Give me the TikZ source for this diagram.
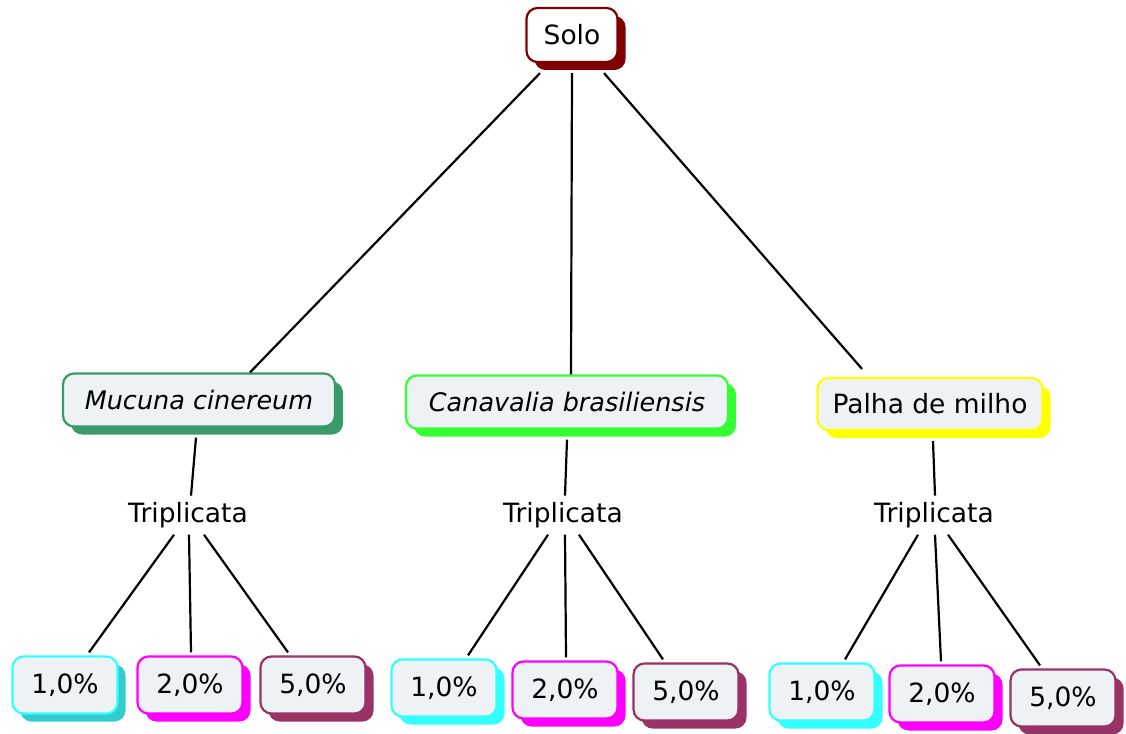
\documentclass[tikz,border=0pt]{standalone}
\usepackage{fontspec}
\setmainfont{DejaVu Sans}
\usetikzlibrary{shadows}
\definecolor{solocol}{HTML}{800000}
\definecolor{muccol}{HTML}{3A9A6A}
\definecolor{cancol}{HTML}{33FF33}
\definecolor{palcol}{HTML}{FFFF00}
\definecolor{cyancol}{HTML}{33FFFF}
\definecolor{cyandark}{HTML}{33CCCC}
\definecolor{magcol}{HTML}{FF00FF}
\definecolor{wincol}{HTML}{993366}
\definecolor{boxfill}{HTML}{EEF2F5}
\tikzset{
  cbox/.style={draw=#1, line width=2.2pt, rounded corners=11pt, fill=boxfill,
    inner xsep=6pt, inner ysep=0pt, font=\fontsize{26.5}{30}\selectfont,
    general shadow={shadow xshift=8pt, shadow yshift=-8pt, fill=#1}},
  itbox/.style={cbox=#1, font=\fontsize{25.5}{30}\selectfont\itshape},
  pbox/.style={cbox=#1, minimum width=105pt, minimum height=57pt},
  lbl/.style={inner sep=0pt, font=\fontsize{26.5}{30}\selectfont, anchor=base},
  conn/.style={line width=2.2pt, black}
}
\begin{document}
\begin{tikzpicture}[x=1pt,y=1pt]
\useasboundingbox (0,0) rectangle (1126,-733);
% top
\node[cbox=solocol, fill=white, minimum width=91pt, minimum height=54pt] (solo) at (572,-35) {Solo};
% middle
\node[itbox=muccol, minimum width=272pt, minimum height=53pt] (muc) at (199,-400) {Mucuna cinereum};
\node[itbox=cancol, minimum width=322pt, minimum height=53pt] (can) at (567,-402) {Canavalia brasiliensis};
\node[cbox=palcol, minimum width=225pt, minimum height=52pt] (pal) at (930,-404) {Palha de milho};
% triplicata labels
\node[lbl] (trA) at (188,-522) {Triplicata};
\node[lbl] (trB) at (563,-522) {Triplicata};
\node[lbl] (trC) at (934,-522) {Triplicata};
% bottom
\node[pbox=cyandark, draw=cyancol] (a1) at (65,-685) {1,0\%};
\node[pbox=magcol] (a2) at (190,-685) {2,0\%};
\node[pbox=wincol] (a5) at (313,-685) {5,0\%};
\node[pbox=cyancol] (b1) at (444,-688) {1,0\%};
\node[pbox=magcol] (b2) at (565,-690) {2,0\%};
\node[pbox=wincol] (b5) at (686,-692) {5,0\%};
\node[pbox=cyancol] (c1) at (822,-692) {1,0\%};
\node[pbox=magcol] (c2) at (942,-694) {2,0\%};
\node[pbox=wincol] (c5) at (1063,-698) {5,0\%};
% connectors top
\draw[conn] ([shift={(-32pt,-10pt)}]solo.south) -- ([xshift=51pt]muc.north);
\draw[conn] ([shift={(0pt,-10pt)}]solo.south) -- ([xshift=4pt]can.north);
\draw[conn] ([shift={(32pt,-10pt)}]solo.south) -- ([shift={(-68pt,8pt)}]pal.north);
% middle to triplicata
\draw[conn] ([shift={(-3pt,-10pt)}]muc.south) -- ([shift={(3pt,6pt)}]trA.north);
\draw[conn] ([shift={(0pt,-10pt)}]can.south) -- ([shift={(2pt,6pt)}]trB.north);
\draw[conn] ([shift={(3pt,-10pt)}]pal.south) -- ([shift={(1pt,6pt)}]trC.north);
% triplicata to percentages
\draw[conn] ([shift={(-14pt,-7pt)}]trA.south) -- ([shift={(24pt,3pt)}]a1.north);
\draw[conn] ([shift={(1pt,-7pt)}]trA.south) -- ([shift={(1pt,3pt)}]a2.north);
\draw[conn] ([shift={(16pt,-7pt)}]trA.south) -- ([shift={(-25pt,3pt)}]a5.north);
\draw[conn] ([shift={(-15pt,-7pt)}]trB.south) -- ([shift={(24pt,3pt)}]b1.north);
\draw[conn] ([shift={(2pt,-7pt)}]trB.south) -- ([shift={(1pt,3pt)}]b2.north);
\draw[conn] ([shift={(16pt,-7pt)}]trB.south) -- ([shift={(-23pt,3pt)}]b5.north);
\draw[conn] ([shift={(-16pt,-7pt)}]trC.south) -- ([shift={(23pt,3pt)}]c1.north);
\draw[conn] ([shift={(1pt,-7pt)}]trC.south) -- ([shift={(-1pt,3pt)}]c2.north);
\draw[conn] ([shift={(14pt,-7pt)}]trC.south) -- ([shift={(-23pt,3pt)}]c5.north);
\end{tikzpicture}
\end{document}
